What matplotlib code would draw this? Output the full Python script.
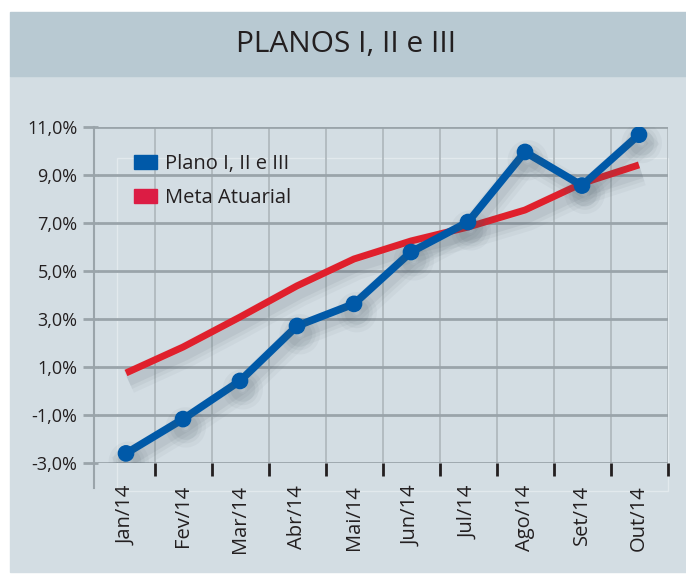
import matplotlib.pyplot as plt
import matplotlib.patheffects as pe
from matplotlib.patches import Rectangle, Patch
import numpy as np

meses = ["Jan/14", "Fev/14", "Mar/14", "Abr/14", "Mai/14",
         "Jun/14", "Jul/14", "Ago/14", "Set/14", "Out/14"]
plano = [-2.6, -1.17, 0.42, 2.71, 3.63, 5.79, 7.04, 9.96, 8.56, 10.68]
meta = [0.75, 1.83, 3.08, 4.38, 5.5, 6.25, 6.83, 7.54, 8.65, 9.42]
yticks = [-3, -1, 1, 3, 5, 7, 9, 11]

plt.rcParams['font.family'] = ['Open Sans', 'DejaVu Sans']
W, H = 686, 574
fig = plt.figure(figsize=(W / 100, H / 100), dpi=100)
fig.patch.set_facecolor('white')

# painel de fundo e faixa do título
fig.patches.append(Rectangle((10 / W, (H - 572) / H), (W - 10) / W, (572 - 76) / H,
                             transform=fig.transFigure, color='#d3dde3', zorder=-10))
fig.patches.append(Rectangle((10 / W, (H - 76) / H), (W - 10) / W, 64 / H,
                             transform=fig.transFigure, color='#b8c9d2', zorder=-10))
fig.text(346 / W, (H - 45) / H, "PLANOS I, II e III", ha='center', va='center',
         fontsize=21.5, color='#231f20')

ax = fig.add_axes([97.5 / W, (H - 463) / H, 570 / W, 336 / H])
ax.set_facecolor('none')
x = np.arange(len(meses))
ax.set_xlim(-0.5, len(meses) - 0.5)
ax.set_ylim(-3, 11)

for s in ax.spines.values():
    s.set_visible(False)

# grade
ax.set_yticks(yticks)
ax.set_yticklabels([f"{v:.1f}%".replace('.', ',') for v in yticks])
ax.grid(axis='y', color='#9aa4aa', linewidth=2, zorder=1)
ax.tick_params(axis='y', length=11, width=2, color='#9aa4aa', labelsize=13,
               labelcolor='#231f20', pad=3.5)
ax.set_xticks(x)
ax.set_xticklabels(meses, rotation=90)
ax.set_xticks(np.arange(0.5, len(meses)), minor=True)
ax.tick_params(axis='x', which='major', length=0, labelsize=14.5,
               labelcolor='#231f20', pad=16)
ax.tick_params(axis='x', which='minor', length=9.5, width=2, color='#231f20')
ax.grid(axis='x', which='minor', color='#b0b9be', linewidth=1.3, zorder=1)
ax.plot([-0.56, -0.56], [-4.04, 11], color='#9aa4aa', linewidth=1.5,
        clip_on=False, zorder=1)
ax.add_patch(Rectangle((-0.16, -4.17), 9.66, 13.87, fill=False,
                       edgecolor='#e2e9ed', linewidth=1, clip_on=False, zorder=1))

sombra = [pe.SimpleLineShadow(offset=(2, -6), shadow_color='#4a5a64', alpha=0.05, linewidth=18),
          pe.SimpleLineShadow(offset=(2, -6), shadow_color='#4a5a64', alpha=0.06, linewidth=12),
          pe.SimpleLineShadow(offset=(2, -6), shadow_color='#4a5a64', alpha=0.08, linewidth=7),
          pe.Normal()]

ax.plot(x, meta, color='#e0202c', linewidth=5, solid_capstyle='butt',
        path_effects=sombra, zorder=3)
ax.plot(x, plano, color='#0059a8', linewidth=5.5, marker='o', markersize=11,
        path_effects=sombra, zorder=4)

handles = [Patch(color='#0059a8', label='Plano I, II e III'),
           Patch(color='#dc1c44', label='Meta Atuarial')]
fig.legend(handles=handles, loc='upper left',
           bbox_to_anchor=(116 / W, (H - 136) / H), frameon=False,
           fontsize=14.5, handlelength=1.15, handleheight=0.72, handletextpad=0.4,
           labelspacing=0.7, labelcolor='#231f20')

fig.savefig('out.png', dpi=100)
